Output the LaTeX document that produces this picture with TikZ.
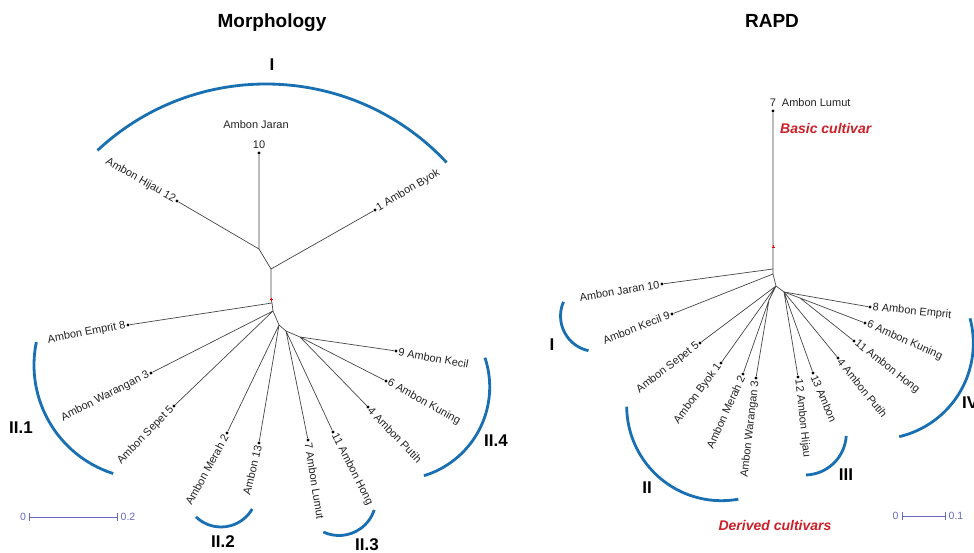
\documentclass[tikz,border=0pt]{standalone}
\usepackage{fontspec}
\setmainfont{Liberation Sans}
\usetikzlibrary{positioning}

\definecolor{treegray}{RGB}{70,70,70}
\definecolor{labelgray}{RGB}{35,35,35}
\definecolor{arcblue}{RGB}{24,112,178}
\definecolor{cultivarred}{RGB}{205,32,40}
\definecolor{scaleblue}{RGB}{105,105,195}

\tikzset{
    branch/.style={draw=treegray, line width=0.7pt},
    leaf/.style={circle, fill=black, inner sep=0pt, minimum size=3.4pt},
    leaflabel/.style={font=\fontsize{11}{13}\selectfont, text=labelgray, inner sep=2.5pt},
    clusterarc/.style={draw=arcblue, line width=2.8pt},
    clusterlabel/.style={font=\fontsize{17}{20}\selectfont\bfseries, inner sep=0pt},
    heading/.style={font=\fontsize{19}{22}\selectfont\bfseries},
    cultivar/.style={font=\fontsize{14}{17}\selectfont\bfseries\itshape, text=cultivarred, inner sep=1pt},
    scalebar/.style={draw=scaleblue, line width=0.8pt},
    scalelabel/.style={font=\fontsize{10.5}{12}\selectfont, text=scaleblue, inner sep=3pt},
    rootmark/.style={draw=red, line width=0.6pt}
}

\begin{document}
\begin{tikzpicture}[x=1pt, y=-1pt]
    \path[use as bounding box, fill=white] (0,0) rectangle (974,553);

    \node[heading] (mtitle) at (272,23) {Morphology};

    \coordinate (ma) at (259,249);
    \coordinate (mb) at (271,269);
    \coordinate (mr) at (271,299);
    \coordinate (mc) at (272,303);
    \coordinate (md) at (273,311);
    \coordinate (me) at (279,325);
    \coordinate (mf) at (286,331);
    \coordinate (mg) at (300,337);

    \node[leaf] (m10) at (259,153) {};
    \node[leaf] (m12) at (177,201) {};
    \node[leaf] (m1) at (375,210) {};
    \node[leaf] (m8) at (128,325) {};
    \node[leaf] (m3) at (151,373) {};
    \node[leaf] (m5) at (174,406) {};
    \node[leaf] (m2) at (227,433) {};
    \node[leaf] (m13) at (259,443) {};
    \node[leaf] (m7) at (308,440) {};
    \node[leaf] (m11) at (333,432) {};
    \node[leaf] (m4) at (368,407) {};
    \node[leaf] (m6) at (386,381) {};
    \node[leaf] (m9) at (396,351) {};

    \draw[branch] (m10) -- (ma) -- (mb) -- (mr) -- (mc) -- (md) -- (me) -- (mf) -- (mg);
    \draw[branch] (ma) -- (m12);
    \draw[branch] (mb) -- (m1);
    \draw[branch] (mc) -- (m8);
    \draw[branch] (md) -- (m3) (md) -- (m5);
    \draw[branch] (me) -- (m2) (me) -- (m13);
    \draw[branch] (mf) -- (m7) (mf) -- (m11);
    \draw[branch] (mg) -- (m9) (mg) -- (m6) (mg) -- (m4);
    \draw[rootmark] (mr) ++(-1.5,0) -- ++(3,0) (mr) ++(0,-1.5) -- ++(0,3);

    \node[leaflabel, anchor=south] (ml10) at (m10.north) {10};
    \node[leaflabel, above=7pt of ml10, xshift=-3pt] (mn10) {Ambon Jaran};
    \node[leaflabel, anchor=east, rotate=-29.6] (ml12) at (m12) {Ambon Hijau 12};
    \node[leaflabel, anchor=west, rotate=30.5] (ml1) at (m1) {1 Ambon Byok};
    \node[leaflabel, anchor=east, rotate=10.8] (ml8) at (m8) {Ambon Emprit 8};
    \node[leaflabel, anchor=east, rotate=27.2] (ml3) at (m3) {Ambon Warangan 3};
    \node[leaflabel, anchor=east, rotate=45.8] (ml5) at (m5) {Ambon Sepet 5};
    \node[leaflabel, anchor=east, rotate=61.4] (ml2) at (m2) {Ambon Merah 2};
    \node[leaflabel, anchor=east, rotate=76] (ml13) at (m13) {Ambon 13};
    \node[leaflabel, anchor=west, rotate=-81] (ml7) at (m7) {7 Ambon Lumut};
    \node[leaflabel, anchor=west, rotate=-63] (ml11) at (m11) {11 Ambon Hong};
    \node[leaflabel, anchor=west, rotate=-46] (ml4) at (m4) {4 Ambon Putih};
    \node[leaflabel, anchor=west, rotate=-29] (ml6) at (m6) {6 Ambon Kuning};
    \node[leaflabel, anchor=west, rotate=-10.5] (ml9) at (m9) {9 Ambon Kecil};

    \draw[clusterarc] (266,331) ++(-133:247) arc[start angle=-133, end angle=-43, radius=247];
    \draw[clusterarc] (148,365) ++(191.6:114) arc[start angle=191.6, end angle=107.8, radius=114];
    \draw[clusterarc] (221,491) ++(134:36) arc[start angle=134, end angle=30, radius=36];
    \draw[clusterarc] (339,498.5) ++(115:37) arc[start angle=115, end angle=18, radius=37];
    \draw[clusterarc] (397,387) ++(-18.4:92.7) arc[start angle=-18.4, end angle=73.1, radius=92.7];

    \node[clusterlabel] (mI) at (272,65) {I};
    \node[clusterlabel] (mII1) at (21,428) {II.1};
    \node[clusterlabel] (mII2) at (223,542) {II.2};
    \node[clusterlabel] (mII3) at (367,545) {II.3};
    \node[clusterlabel] (mII4) at (496,441) {II.4};

    \node[scalelabel] (ms0) at (23,517) {0};
    \node[scalelabel] (ms2) at (128,517) {0.2};
    \draw[scalebar, |-|] (ms0) -- (ms2);

    \node[heading] (rtitle) at (772,21) {RAPD};

    \coordinate (ra) at (773,247);
    \coordinate (rb) at (773,269);
    \coordinate (rc) at (773,274);
    \coordinate (rp) at (776,286);
    \coordinate (ru) at (769,300);
    \coordinate (rq) at (784,292);
    \coordinate (rs) at (800,298);

    \node[leaf] (r7) at (773,111) {};
    \node[leaf] (r10) at (662,284) {};
    \node[leaf] (r9) at (672,314) {};
    \node[leaf] (r5) at (700,343) {};
    \node[leaf] (r1) at (721,363) {};
    \node[leaf] (r2) at (743,374) {};
    \node[leaf] (r3) at (756,378) {};
    \node[leaf] (r12) at (798,377) {};
    \node[leaf] (r13) at (813,373) {};
    \node[leaf] (r4) at (838,358) {};
    \node[leaf] (r11) at (854,341) {};
    \node[leaf] (r6) at (865,323) {};
    \node[leaf] (r8) at (870,307) {};

    \draw[branch] (r7) -- (ra) -- (rb) -- (rc) -- (rp) -- (rq) -- (rs);
    \draw[branch] (rb) -- (r10);
    \draw[branch] (rc) -- (r9);
    \draw[branch] (rp) -- (r5) (rp) -- (r1) (rp) -- (ru);
    \draw[branch] (ru) -- (r2) (ru) -- (r3);
    \draw[branch] (rq) -- (r12) (rq) -- (r13) (rq) -- (r4) (rq) -- (r8);
    \draw[branch] (rs) -- (r11) (rs) -- (r6);
    \draw[rootmark] (ra) ++(-1.5,0) -- ++(3,0) (ra) ++(0,-1.5) -- ++(0,3);

    \node[leaflabel, anchor=south] (rl7) at (r7.north) {7};
    \node[leaflabel, right=0.5pt of rl7] (rn7) {Ambon Lumut};
    \node[cultivar, anchor=west] (basic) at (779,128.5) {Basic cultivar};
    \node[leaflabel, anchor=east, rotate=9.3] (rl10) at (r10) {Ambon Jaran 10};
    \node[leaflabel, anchor=east, rotate=21.3] (rl9) at (r9) {Ambon Kecil 9};
    \node[leaflabel, anchor=east, rotate=37.8] (rl5) at (r5) {Ambon Sepet 5};
    \node[leaflabel, anchor=east, rotate=53] (rl1) at (r1) {Ambon Byok 1};
    \node[leaflabel, anchor=east, rotate=65.5] (rl2) at (r2) {Ambon Merah 2};
    \node[leaflabel, anchor=east, rotate=83.5] (rl3) at (r3) {Ambon Warangan 3};
    \node[leaflabel, anchor=west, rotate=-84] (rl12) at (r12) {12 Ambon Hijau};
    \node[leaflabel, anchor=west, rotate=-67] (rl13) at (r13) {13 Ambon};
    \node[leaflabel, anchor=west, rotate=-51] (rl4) at (r4) {4 Ambon Putih};
    \node[leaflabel, anchor=west, rotate=-38] (rl11) at (r11) {11 Ambon Hong};
    \node[leaflabel, anchor=west, rotate=-24] (rl6) at (r6) {6 Ambon Kuning};
    \node[leaflabel, anchor=west, rotate=-6] (rl8) at (r8) {8 Ambon Emprit};

    \draw[clusterarc] (596,316) ++(203.6:35.5) arc[start angle=203.6, end angle=102.2, radius=35.5];
    \draw[clusterarc] (721.4,406) ++(179.6:94.7) arc[start angle=179.6, end angle=79.7, radius=94.7];
    \draw[clusterarc] (804.7,433.4) ++(88.2:41.6) arc[start angle=88.2, end angle=3.6, radius=41.6];
    \draw[clusterarc] (877.3,343.2) ++(-15:96) arc[start angle=-15, end angle=76.8, radius=96];

    \node[clusterlabel] (rI) at (552,345) {I};
    \node[clusterlabel] (rII) at (647,488) {II};
    \node[clusterlabel] (rIII) at (846,475) {III};
    \node[clusterlabel, anchor=west] (rIV) at (962,403) {IV};
    \node[cultivar] (derived) at (775,525) {Derived cultivars};

    \node[scalelabel] (rs0) at (895.5,516) {0};
    \node[scalelabel] (rs1) at (956,516) {0.1};
    \draw[scalebar, |-|] (rs0) -- (rs1);
\end{tikzpicture}
\end{document}
